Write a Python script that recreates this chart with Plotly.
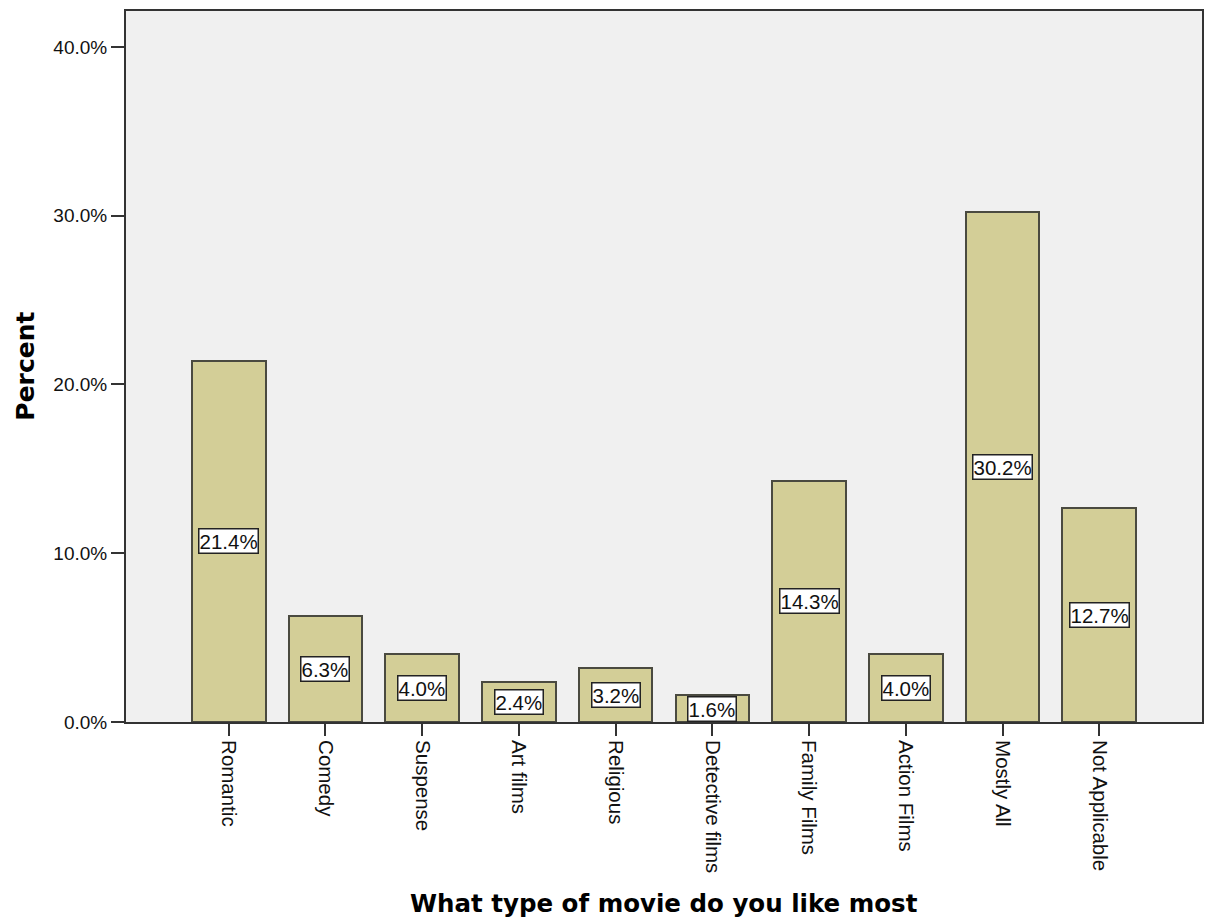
import plotly.graph_objects as go

categories = ["Romantic", "Comedy", "Suspense", "Art films", "Religious",
              "Detective films", "Family Films", "Action Films", "Mostly All", "Not Applicable"]
percents = [21.4, 6.3, 4.0, 2.4, 3.2, 1.6, 14.3, 4.0, 30.2, 12.7]
bar_labels = ["21.4%", "6.3%", "4.0%", "2.4%", "3.2%", "1.6%", "14.3%", "4.0%", "30.2%", "12.7%"]
y_ticks = [0, 10, 20, 30, 40]
y_tick_labels = ["0.0%", "10.0%", "20.0%", "30.0%", "40.0%"]

fig = go.Figure()
fig.add_trace(go.Bar(
    x=categories, y=percents, width=0.76,
    marker=dict(color="#D3CE97", line=dict(color="#4a4a40", width=2)),
    hoverinfo="skip",
))

for c, v, t in zip(categories, percents, bar_labels):
    fig.add_annotation(x=c, y=v / 2, text=t, showarrow=False,
                       font=dict(family="Liberation Sans, Arial", size=20.5, color="#111"),
                       bgcolor="white", bordercolor="#222", borderwidth=1.5, borderpad=0,
                       xanchor="center", yanchor="middle")

fig.add_annotation(xref="paper", yref="paper", x=0.5, y=-0.2546,
                   text="<b>What type of movie do you like most</b>", showarrow=False,
                   font=dict(family="DejaVu Sans", size=24.5, color="black"),
                   xanchor="center", yanchor="middle")
fig.add_annotation(xref="paper", yref="paper", x=-0.0937, y=0.5,
                   text="<b>Percent</b>", showarrow=False, textangle=-90,
                   font=dict(family="DejaVu Sans", size=25, color="black"),
                   xanchor="center", yanchor="middle")

fig.update_layout(
    width=1207, height=920,
    margin=dict(l=126, r=3, t=11, b=198),
    paper_bgcolor="white", plot_bgcolor="#F0F0F0",
    showlegend=False, bargap=0,
    font=dict(family="Liberation Sans, Arial", color="#111"),
)
fig.update_xaxes(
    range=[-1.0625, 9 + 1.0625], tickangle=90,
    showline=True, linecolor="#333", linewidth=2, mirror=True,
    ticks="outside", ticklen=12, tickwidth=2, tickcolor="#333",
    tickfont=dict(size=20.5, family="Liberation Sans, Arial", color="#111"),
    showgrid=False, zeroline=False, fixedrange=True,
)
fig.update_yaxes(
    range=[0, 42.13], tickvals=y_ticks, ticktext=y_tick_labels,
    showline=True, linecolor="#333", linewidth=2, mirror=True,
    ticks="outside", ticklen=13, tickwidth=2, tickcolor="#333",
    tickfont=dict(size=19, family="Liberation Sans, Arial", color="#111"),
    showgrid=False, zeroline=False, fixedrange=True,
)

fig.write_html("out.html")
